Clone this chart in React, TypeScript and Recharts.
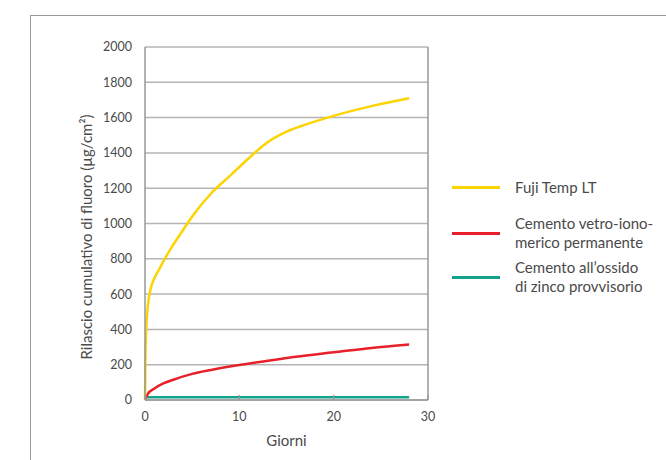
import {
  LineChart,
  Line,
  XAxis,
  YAxis,
  CartesianGrid,
  ReferenceLine,
  Label,
} from "recharts";

// days / cumulative fluoride release (µg/cm²)
const fujiDays = [0, 0.05, 0.15, 0.3, 0.6, 1, 1.5, 2, 3, 4, 5, 7, 9, 11, 13, 15, 17, 20, 24, 28];
const fujiValues = [0, 250, 420, 530, 630, 690, 740, 790, 880, 960, 1040, 1170, 1270, 1370, 1460, 1520, 1560, 1610, 1665, 1710];

const gicDays = [0, 0.3, 1, 2, 3, 5, 7, 10, 13, 16, 20, 24, 28];
const gicValues = [0, 35, 65, 95, 115, 148, 170, 198, 222, 245, 270, 295, 315];

const zincDays = [0, 28];
const zincValues = [15, 15];

const xTicks = [0, 10, 20, 30];
const yTicks = [0, 200, 400, 600, 800, 1000, 1200, 1400, 1600, 1800, 2000];

const fujiData = fujiDays.map((d, i) => ({ x: d, y: fujiValues[i] }));
const gicData = gicDays.map((d, i) => ({ x: d, y: gicValues[i] }));
const zincData = zincDays.map((d, i) => ({ x: d, y: zincValues[i] }));

const FONT = "Lato, 'Open Sans', sans-serif";
const TEXT = "#4a4a4a";
const GRID = "#b4b4b4";

const legendItems = [
  { color: "#fcd400", lines: ["Fuji Temp LT"], y: 187 },
  { color: "#e8202a", lines: ["Cemento vetro-iono-", "merico permanente"], y: 233 },
  { color: "#13a38b", lines: ["Cemento all\u2019ossido", "di zinco provvisorio"], y: 277 },
];

export default function App() {
  return (
    <div style={{ position: "absolute", left: 0, top: 0, width: 666, height: 460, background: "#fff", fontFamily: FONT }}>
      {/* frame */}
      <div style={{ position: "absolute", left: 30, top: 15, width: 636, height: 445, borderTop: "1px solid #999", borderLeft: "1px solid #999" }} />
      <div style={{ position: "absolute", left: 0, top: 0 }}>
        <LineChart width={666} height={460} margin={{ top: 47, right: 238, bottom: 30, left: 100 }}>
          <CartesianGrid vertical={false} stroke={GRID} strokeWidth={1.5} />
          <XAxis
            type="number"
            dataKey="x"
            domain={[0, 30]}
            ticks={xTicks}
            allowDuplicatedCategory={false}
            height={30}
            stroke="#999"
            strokeWidth={1.5}
            tickSize={-5}
            tickMargin={17}
            tick={{ fill: TEXT, fontSize: 12.5, fontFamily: FONT }}
          >
            <Label value="Giorni" position="insideBottom" offset={-16} fill={TEXT} fontSize={15} fontFamily={FONT} />
          </XAxis>
          <YAxis
            type="number"
            domain={[0, 2000]}
            ticks={yTicks}
            width={45}
            stroke="#999"
            strokeWidth={1.5}
            tickLine={false}
            tickMargin={7}
            tick={{ fill: TEXT, fontSize: 12.5, fontFamily: FONT }}
          />
          <ReferenceLine x={30} stroke="#999" strokeWidth={1.5} />
          <Line data={zincData} dataKey="y" type="linear" stroke="#13a38b" strokeWidth={2.5} dot={false} isAnimationActive={false} />
          <Line data={gicData} dataKey="y" type="monotone" stroke="#e8202a" strokeWidth={2.5} dot={false} isAnimationActive={false} />
          <Line data={fujiData} dataKey="y" type="monotone" stroke="#fcd400" strokeWidth={2.5} dot={false} isAnimationActive={false} />
        </LineChart>
      </div>
      {/* y-axis title */}
      <div
        style={{
          position: "absolute",
          left: 86,
          top: 237,
          transform: "translate(-50%, -50%) rotate(-90deg)",
          whiteSpace: "nowrap",
          fontSize: 15,
          color: TEXT,
        }}
      >
        Rilascio cumulativo di fluoro (µg/cm²)
      </div>
      {/* legend */}
      {legendItems.map((item) => (
        <div key={item.lines[0]}>
          <div style={{ position: "absolute", left: 452, top: item.y - 1, width: 48, height: 2.5, background: item.color }} />
          <div
            style={{
              position: "absolute",
              left: 515,
              top: item.y,
              transform: "translateY(-50%)",
              fontSize: 15,
              lineHeight: "19px",
              color: TEXT,
              whiteSpace: "nowrap",
            }}
          >
            {item.lines.map((l) => (
              <div key={l}>{l}</div>
            ))}
          </div>
        </div>
      ))}
    </div>
  );
}
